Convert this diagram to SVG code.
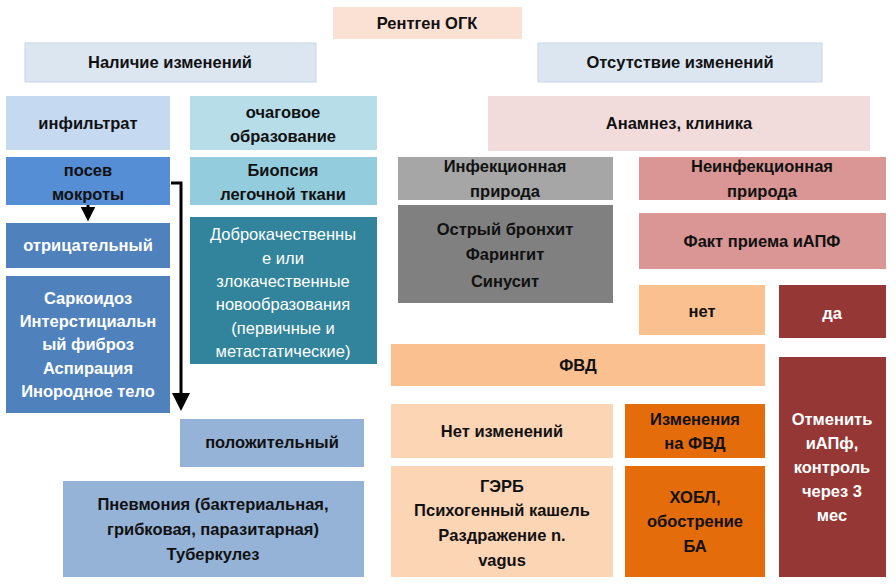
<svg xmlns="http://www.w3.org/2000/svg" width="896" height="587" viewBox="0 0 896 587">
<style>
text{font-family:"Liberation Sans","DejaVu Sans",sans-serif;font-size:16.5px;font-weight:bold;fill:#111;text-anchor:middle}
.w{fill:#fff}
.n{font-weight:normal;fill:#fff}
</style>
<defs><marker id="ah" markerWidth="6" markerHeight="6" refX="3" refY="3" orient="auto" markerUnits="strokeWidth"><path d="M0,0 L6,3 L0,6 z" fill="#000"/></marker>
<marker id="ah2" markerWidth="5" markerHeight="5" refX="2.5" refY="2.5" orient="auto" markerUnits="strokeWidth"><path d="M0,0 L5,2.5 L0,5 z" fill="#000"/></marker></defs>
<rect width="896" height="587" fill="#fff"/>
<g id="n0"><rect x="333" y="7" width="189" height="32" fill="#fbe0d4"/><text x="427" y="29">Рентген ОГК</text></g>
<g id="n1"><rect x="25" y="43" width="291" height="39" fill="#dce6f1" stroke="#c9d6e6"/><text x="170" y="68">Наличие изменений</text></g>
<g id="n2"><rect x="538" y="43" width="284" height="39" fill="#dce6f1" stroke="#c9d6e6"/><text x="680" y="68">Отсутствие изменений</text></g>
<g id="n3"><rect x="6" y="96" width="164" height="54" fill="#c5d9f1"/><text x="88" y="129">инфильтрат</text></g>
<g id="n4"><rect x="190" y="96" width="187" height="54" fill="#b7dee8"/><text x="283" y="118">очаговое</text><text x="283" y="142">образование</text></g>
<g id="n5"><rect x="6" y="157" width="164" height="48" fill="#558ed5"/><text x="88" y="176">посев</text><text x="88" y="200">мокроты</text></g>
<g id="n6"><rect x="190" y="157" width="187" height="48" fill="#93cddd"/><text x="283" y="176">Биопсия</text><text x="283" y="200">легочной ткани</text></g>
<g id="n7"><rect x="6" y="223" width="164" height="45" fill="#4f81bd"/><text class="w" x="88" y="251">отрицательный</text></g>
<g id="n8"><rect x="6" y="276" width="164" height="137" fill="#4f81bd"/><text class="w" x="88" y="304">Саркоидоз</text><text class="w" x="88" y="327">Интерстициальн</text><text class="w" x="88" y="350">ый фиброз</text><text class="w" x="88" y="374">Аспирация</text><text class="w" x="88" y="397">Инородное тело</text></g>
<g id="n9"><rect x="190" y="217" width="187" height="147" fill="#31849b"/><text class="n" x="283" y="240">Доброкачественны</text><text class="n" x="283" y="264">е или</text><text class="n" x="283" y="287">злокачественные</text><text class="n" x="283" y="310">новообразования</text><text class="n" x="283" y="334">(первичные и</text><text class="n" x="283" y="357">метастатические)</text></g>
<g id="n10"><rect x="180" y="419" width="184" height="48" fill="#95b3d7"/><text x="272" y="448">положительный</text></g>
<g id="n11"><rect x="63" y="481" width="301" height="96" fill="#95b3d7"/><text x="213" y="510">Пневмония (бактериальная,</text><text x="213" y="535">грибковая, паразитарная)</text><text x="213" y="560">Туберкулез</text></g>
<g id="n12"><rect x="488" y="96" width="382" height="55" fill="#f2dcdb"/><text x="679" y="129">Анамнез, клиника</text></g>
<g id="n13"><rect x="398" y="157" width="215" height="43" fill="#a6a6a6"/><text x="505" y="172">Инфекционная</text><text x="505" y="197">природа</text></g>
<g id="n14"><rect x="398" y="205" width="215" height="98" fill="#808080"/><text x="505" y="235">Острый бронхит</text><text x="505" y="260">Фарингит</text><text x="505" y="287">Синусит</text></g>
<g id="n15"><rect x="639" y="157" width="247" height="43" fill="#d99694"/><text x="762" y="172">Неинфекционная</text><text x="762" y="197">природа</text></g>
<g id="n16"><rect x="639" y="213" width="247" height="56" fill="#d99694"/><text x="762" y="247">Факт приема иАПФ</text></g>
<g id="n17"><rect x="639" y="285" width="126" height="50" fill="#fac090"/><text x="702" y="317">нет</text></g>
<g id="n18"><rect x="779" y="285" width="107" height="53" fill="#953735"/><text class="w" x="832" y="319">да</text></g>
<g id="n19"><rect x="391" y="344" width="374" height="42" fill="#fac090"/><text x="578" y="371">ФВД</text></g>
<g id="n20"><rect x="391" y="404" width="222" height="54" fill="#fcd5b5"/><text x="502" y="437">Нет изменений</text></g>
<g id="n21"><rect x="625" y="404" width="140" height="54" fill="#e46c0a"/><text x="695" y="425">Изменения</text><text x="695" y="449">на ФВД</text></g>
<g id="n22"><rect x="391" y="466" width="222" height="111" fill="#fcd5b5"/><text x="502" y="492">ГЭРБ</text><text x="502" y="516">Психогенный кашель</text><text x="502" y="541">Раздражение n.</text><text x="502" y="566">vagus</text></g>
<g id="n23"><rect x="625" y="466" width="140" height="111" fill="#e46c0a"/><text x="695" y="503">ХОБЛ,</text><text x="695" y="527">обострение</text><text x="695" y="552">БА</text></g>
<g id="n24"><rect x="779" y="357" width="107" height="220" fill="#953735"/><text class="w" x="832" y="425">Отменить</text><text class="w" x="832" y="449">иАПф,</text><text class="w" x="832" y="473">контроль</text><text class="w" x="832" y="497">через 3</text><text class="w" x="832" y="521">мес</text></g>
<g id="connectors" fill="none" stroke="#000" stroke-width="3">
<path d="M88,205 V214" marker-end="url(#ah2)"/>
<path d="M171,183 H181 V402" marker-end="url(#ah)"/>
</g>
</svg>
